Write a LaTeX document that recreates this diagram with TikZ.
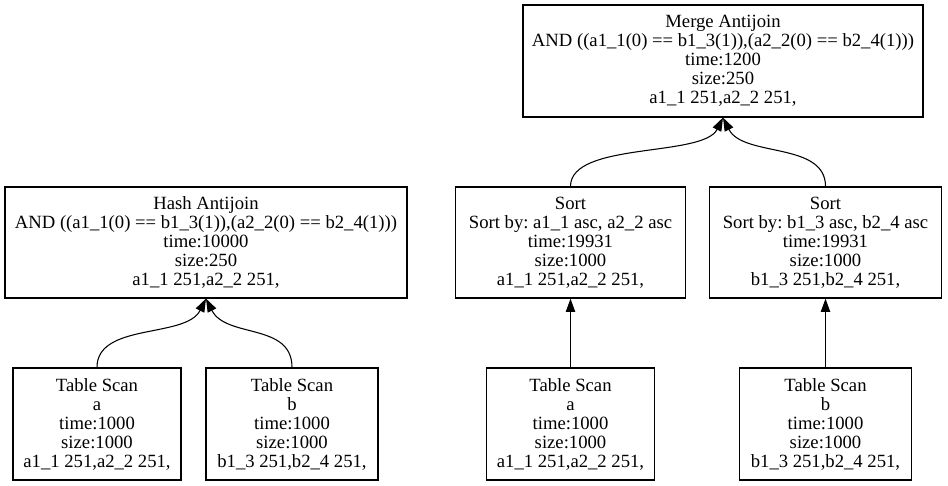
\documentclass[tikz,border=0pt]{standalone}
\usepackage{fontspec}
\setmainfont{Liberation Serif}
\usetikzlibrary{arrows.meta,calc}
\frenchspacing

\begin{document}
\begin{tikzpicture}[x=0.75pt,y=-0.75pt,
  opnode/.style={draw,line width=0.9pt,rectangle,align=center,inner sep=0pt,font=\fontsize{14}{14.25}\selectfont},
  flow/.style={-{Triangle[length=10pt,width=7pt]},line width=0.8pt}]
\useasboundingbox (0,0) rectangle (948,485);
% root
\node[opnode,minimum width=300pt,minimum height=84pt] (merge) at (723,61) {Merge Antijoin\\AND ((a1\_1(0) == b1\_3(1)),(a2\_2(0) == b2\_4(1)))\\time:1200\\size:250\\a1\_1 251,a2\_2 251,};
% joins and sorts
\node[opnode,minimum width=301.5pt,minimum height=83.25pt] (hash) at (206,242.5) {Hash Antijoin\\AND ((a1\_1(0) == b1\_3(1)),(a2\_2(0) == b2\_4(1)))\\time:10000\\size:250\\a1\_1 251,a2\_2 251,};
\node[opnode,minimum width=172.5pt,minimum height=83.25pt] (sortl) at (570.5,242.5) {Sort\\Sort by: a1\_1 asc, a2\_2 asc\\time:19931\\size:1000\\a1\_1 251,a2\_2 251,};
\node[opnode,minimum width=174pt,minimum height=83.25pt] (sortr) at (825.5,242.5) {Sort\\Sort by: b1\_3 asc, b2\_4 asc\\time:19931\\size:1000\\b1\_3 251,b2\_4 251,};
% scans
\node[opnode,minimum width=126pt,minimum height=84pt] (scanal) at (97,424) {Table Scan\\a\\time:1000\\size:1000\\a1\_1 251,a2\_2 251,};
\node[opnode,minimum width=129pt,minimum height=84pt] (scanbl) at (292,424) {Table Scan\\b\\time:1000\\size:1000\\b1\_3 251,b2\_4 251,};
\node[opnode,minimum width=126pt,minimum height=84pt] (scanam) at (570.5,424) {Table Scan\\a\\time:1000\\size:1000\\a1\_1 251,a2\_2 251,};
\node[opnode,minimum width=129pt,minimum height=84pt] (scanbr) at (825.5,424) {Table Scan\\b\\time:1000\\size:1000\\b1\_3 251,b2\_4 251,};
% edges
\draw[flow] (scanal.north) .. controls ($(scanal.north)+(0,-45)$) and ($(hash.south)+(-20,40)$) .. (hash.south);
\draw[flow] (scanbl.north) .. controls ($(scanbl.north)+(0,-45)$) and ($(hash.south)+(20,40)$) .. (hash.south);
\draw[flow] (sortl.north) .. controls ($(sortl.north)+(0,-45)$) and ($(merge.south)+(-20,40)$) .. (merge.south);
\draw[flow] (sortr.north) .. controls ($(sortr.north)+(0,-45)$) and ($(merge.south)+(20,40)$) .. (merge.south);
\draw[flow] (scanam) -- (sortl);
\draw[flow] (scanbr) -- (sortr);
\end{tikzpicture}
\end{document}
